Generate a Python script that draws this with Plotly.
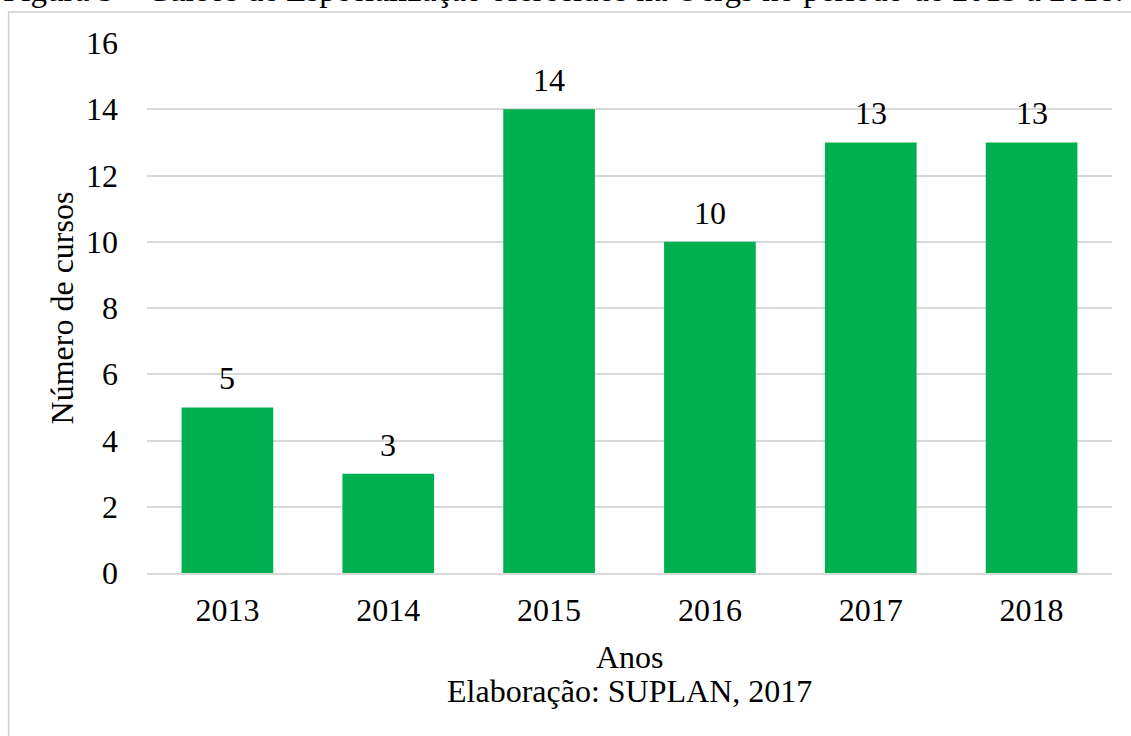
import plotly.graph_objects as go

years = ["2013", "2014", "2015", "2016", "2017", "2018"]
cursos = [5, 3, 14, 10, 13, 13]
y_ticks = [0, 2, 4, 6, 8, 10, 12, 14, 16]

FONT = "Liberation Serif, Times New Roman, serif"
GREEN = "#00B050"
FS = 32

W, H = 1131, 736
# plot area in page pixels: x 146.5..1112.5, y 43..573.5
L, R, T, B = 146.5, 1131 - 1112.5, 43, 736 - 573.5
pw, ph = W - L - R, H - T - B

def px_x(x):  # page pixel -> paper coord
    return (x - L) / pw

def px_y(y):
    return (H - B - y) / ph

fig = go.Figure()
fig.add_trace(go.Bar(x=years, y=cursos, marker=dict(color=GREEN, line=dict(width=0)),
                     hoverinfo="x+y"))

# value labels above bars (category index positions on the category axis)
for i, v in enumerate(cursos):
    fig.add_annotation(x=i, y=v, text=str(v), showarrow=False, yanchor="bottom",
                       yshift=9, font=dict(family=FONT, size=FS, color="#000000"))

# x-axis title and source line
fig.add_annotation(xref="paper", yref="paper", x=0.5, y=px_y(658), text="Anos",
                   showarrow=False, yanchor="middle",
                   font=dict(family=FONT, size=FS, color="#000000"))
fig.add_annotation(xref="paper", yref="paper", x=0.5, y=px_y(692),
                   text="Elaboração: SUPLAN, 2017", showarrow=False, yanchor="middle",
                   font=dict(family=FONT, size=FS, color="#000000"))
# cropped caption at very top
fig.add_annotation(xref="paper", yref="paper", x=px_x(0), y=px_y(-10.5),
                   text="Figura 5 – Cursos de Especialização oferecidos na Uergs no período de 2013 a 2018.",
                   showarrow=False, xanchor="left", yanchor="middle",
                   font=dict(family=FONT, size=33, color="#000000"))

# outer frame
fig.add_shape(type="rect", xref="paper", yref="paper",
              x0=px_x(8), x1=px_x(1140), y0=px_y(745), y1=px_y(12),
              line=dict(color="#D0D0D0", width=1.5), fillcolor="rgba(0,0,0,0)", layer="below")

fig.update_layout(
    width=W, height=H,
    margin=dict(l=L, r=R, t=T, b=B, pad=0),
    paper_bgcolor="#FFFFFF", plot_bgcolor="#FFFFFF",
    bargap=0.43, showlegend=False,
    font=dict(family=FONT, size=FS, color="#000000"),
    xaxis=dict(type="category", categoryorder="array", categoryarray=years,
               range=[-0.5, len(years) - 0.5],
               showgrid=False, showline=True, linecolor="#D9D9D9", linewidth=1.5,
               ticks="", tickfont=dict(family=FONT, size=FS, color="#000000"),
               ticklabelstandoff=8),
    yaxis=dict(range=[0, 16], tickvals=y_ticks, showgrid=True, gridcolor="#D9D9D9",
               gridwidth=1.5, zeroline=False, showline=False, ticks="",
               tickfont=dict(family=FONT, size=FS, color="#000000"),
               ticklabelstandoff=28,
               title=dict(text="Número de cursos", font=dict(family=FONT, size=FS, color="#000000"),
                          standoff=2)),
)

fig.write_html("out.html", config={"displayModeBar": False},
               post_script="document.body.style.margin='0';document.body.style.overflow='hidden';")
